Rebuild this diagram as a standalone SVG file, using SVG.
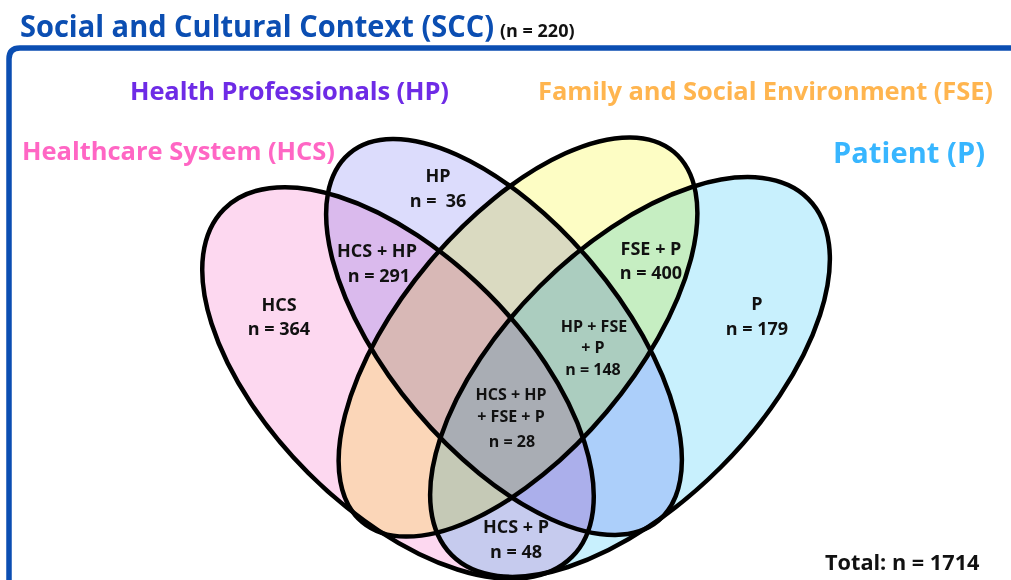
<svg xmlns="http://www.w3.org/2000/svg" width="1011" height="580" viewBox="0 0 1011 580">
  <style>
    text { font-family: "Open Sans", "Noto Sans", "Liberation Sans", sans-serif; font-weight: 700; }
    .set { mix-blend-mode: multiply; stroke: #000; stroke-width: 4.5; }
    .lbl { font-size: 18px; fill: #111; text-anchor: middle; }
    .lbl-s { font-size: 16px; fill: #111; text-anchor: middle; }
    .head { font-size: 25.5px; }
  </style>
  <rect width="1011" height="580" fill="#ffffff"/>

  <!-- outer context frame -->
  <g id="scc">
    <path d="M 9 600 V 59 Q 9 48 20 48 H 1030" fill="none" stroke="#0b4eb2" stroke-width="5.5"/>
    <text x="20" y="37" font-size="29.5" fill="#0b4eb2" textLength="474" lengthAdjust="spacingAndGlyphs">Social and Cultural Context (SCC)</text>
    <text x="500" y="37" font-size="18" fill="#111">(n = 220)</text>
  </g>

  <!-- the four sets; multiply blending produces the overlap colours -->
  <g id="hcs">
    <ellipse class="set" cx="398" cy="383" rx="246" ry="127" transform="rotate(45 398 383)" fill="#fdd8f0"/>
    <text class="head" x="22" y="160" fill="#ff66c4" textLength="313">Healthcare System (HCS)</text>
  </g>
  <g id="hp">
    <ellipse class="set" cx="504" cy="337" rx="240" ry="115" transform="rotate(49.9 504 337)" fill="#dcdcfc"/>
    <text class="head" x="130" y="100" fill="#6e2be6" textLength="319">Health Professionals (HP)</text>
  </g>
  <g id="fse">
    <ellipse class="set" cx="518" cy="337" rx="242" ry="116" transform="rotate(-49.9 518 337)" fill="#fdfdc4"/>
    <text class="head" x="538" y="100" fill="#ffb54f" textLength="455">Family and Social Environment (FSE)</text>
  </g>
  <g id="p">
    <ellipse class="set" cx="630" cy="377" rx="252" ry="128" transform="rotate(-45 630 377)" fill="#c8f0fd"/>
    <text x="833" y="163" font-size="29" fill="#38b6ff" textLength="152">Patient (P)</text>
  </g>

  <!-- region counts -->
  <g id="regions">
    <text class="lbl" x="438" y="182">HP</text>
    <text class="lbl" x="438" y="207">n = &#160;36</text>
    <text class="lbl" x="377" y="257">HCS + HP</text>
    <text class="lbl" x="379" y="282">n = 291</text>
    <text class="lbl" x="279" y="311">HCS</text>
    <text class="lbl" x="279" y="335">n = 364</text>
    <text class="lbl" x="651" y="255">FSE + P</text>
    <text class="lbl" x="651" y="279">n = 400</text>
    <text class="lbl" x="757" y="310">P</text>
    <text class="lbl" x="757" y="335">n = 179</text>
    <text class="lbl-s" x="594" y="332">HP + FSE</text>
    <text class="lbl-s" x="593" y="353">+ P</text>
    <text class="lbl-s" x="593" y="375">n = 148</text>
    <text class="lbl-s" x="511" y="400">HCS + HP</text>
    <text class="lbl-s" x="511" y="422">+ FSE + P</text>
    <text class="lbl-s" x="512" y="447">n = 28</text>
    <text class="lbl" x="516" y="533" font-size="17.5">HCS + P</text>
    <text class="lbl" x="516" y="558" font-size="17.5">n = 48</text>
  </g>

  <text x="825" y="570" font-size="21.7" fill="#111">Total: n = 1714</text>
</svg>
